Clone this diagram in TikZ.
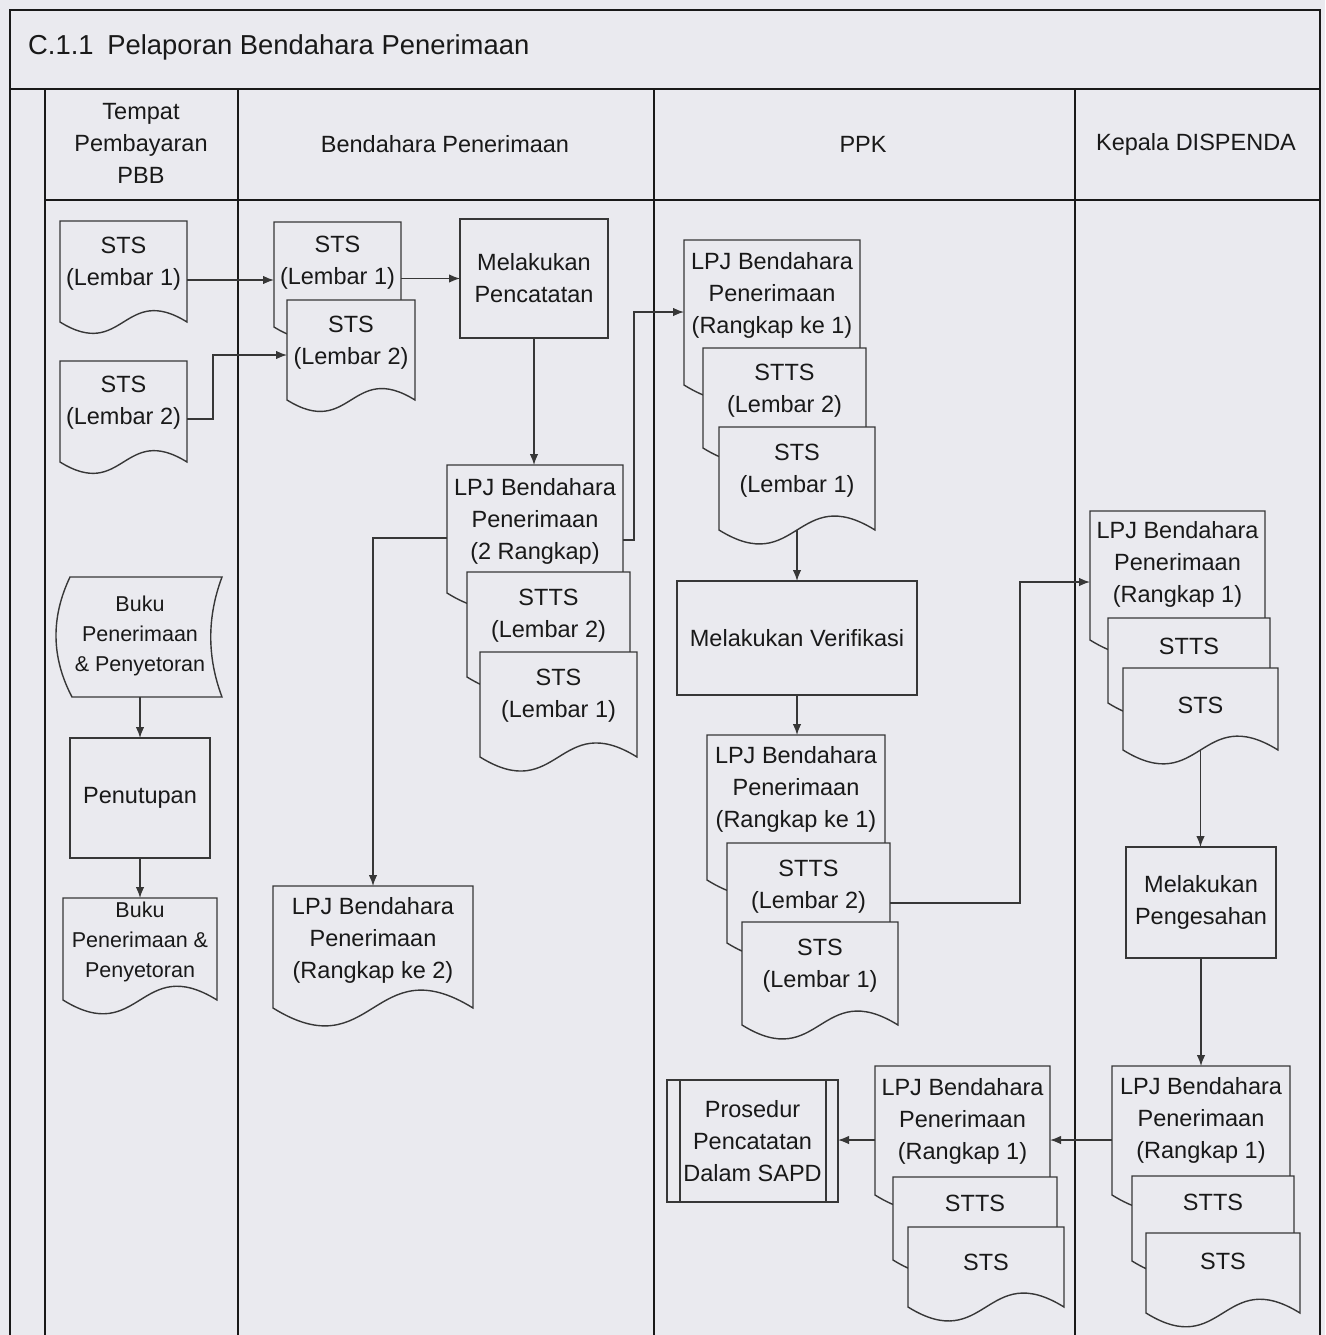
\documentclass[tikz,border=0pt]{standalone}
\usepackage{fontspec}
\setmainfont{Liberation Sans}
\usetikzlibrary{arrows.meta}

\definecolor{paper}{RGB}{234,234,239}
\definecolor{ink}{RGB}{25,25,25}
\definecolor{edge}{RGB}{55,55,55}

\newcommand\bodyfont{\fontsize{23.5}{32}\selectfont}
\newcommand\smallfont{\fontsize{21.5}{30}\selectfont}
\newcommand\titlefont{\fontsize{27.4}{32}\selectfont}

\tikzset{
  laneline/.style={draw=ink, line width=2.2pt},
  docline/.style={draw=edge, line width=1.4pt, fill=paper},
  boxshape/.style={draw=edge, line width=1.4pt, fill=paper, inner sep=0pt,
    outer sep=0pt, anchor=north west, align=center, font=\bodyfont, text=ink},
  frame/.style={draw=none, inner sep=0pt, outer sep=0pt},
  lbl/.style={align=center, font=\bodyfont, text=ink, inner sep=0pt},
  arr/.style={draw=edge, line width=1.3pt, -{Latex[length=11pt,width=8.5pt]}},
  flow/.style={draw=edge, line width=1.4pt},
}

% document symbol: [label style]{name}{left}{top}{width}{height}{label y}{label}
\newcommand\docshape[8][]{%
  \draw[docline] (#3,#4) -- ({#3+#5},#4) -- ({#3+#5},{#4+#6})
    .. controls ({#3+#5/2},{#4+#6-0.31*#5}) and ({#3+#5/2},{#4+#6+0.31*#5})
    .. (#3,{#4+#6}) -- cycle;
  \node[frame, minimum width=#5, minimum height=#6, anchor=north west] (#2) at (#3,#4) {};
  \node[lbl,#1] (#2-t) at ({#3+#5/2},#7) {#8};
}

\begin{document}
\begin{tikzpicture}[x=1pt,y=-1pt]
\useasboundingbox (0,0) rectangle (1325,1335);
\fill[paper] (0,0) rectangle (1325,1335);

% swimlane frame
\draw[laneline] (10,1345) -- (10,10) -- (1320,10) -- (1320,1345);
\draw[laneline] (10,89) -- (1320,89);
\draw[laneline] (45,200) -- (1320,200);
\foreach \lx in {45,238,654,1075} \draw[laneline] (\lx,89) -- (\lx,1345);

\node[lbl, font=\titlefont, anchor=west] (title) at (28,47)
  {C.1.1\hspace{0.5em}Pelaporan Bendahara Penerimaan};
\node[lbl] (hTempat) at (141,143) {Tempat\\Pembayaran\\PBB};
\node[lbl] (hBend) at (445,144) {Bendahara Penerimaan};
\node[lbl] (hPPK) at (863,144) {PPK};
\node[lbl] (hKep) at (1196,144) {Kepala DISPENDA};

% ---- Tempat Pembayaran PBB
\docshape{stsA}{60}{221}{127}{101}{264}{STS\\(Lembar 1)}
\docshape{stsB}{60}{361}{127}{101}{403}{STS\\(Lembar 2)}

\draw[docline] (70,577) -- (222,577) .. controls (207,617) and (207,657) .. (222,697)
  -- (72,697) .. controls (51,657) and (51,617) .. (70,577) -- cycle;
\node[frame, minimum width=150, minimum height=120, anchor=north west] (bukuA) at (72,577) {};
\node[lbl, font=\smallfont] (bukuA-t) at (140,636) {Buku\\Penerimaan\\\& Penyetoran};

\node[boxshape, minimum width=140, minimum height=120] (penut) at (70,738) {Penutupan};
\docshape[font=\smallfont]{bukuB}{63}{898}{154}{102}{942}{Buku\\Penerimaan \&\\Penyetoran}

% ---- Bendahara Penerimaan
\docshape{bsts1}{274}{222}{127}{105}{263}{STS\\(Lembar 1)}
\docshape{bsts2}{287}{300}{128}{100}{343}{STS\\(Lembar 2)}
\node[boxshape, minimum width=148, minimum height=119] (pencat) at (460,219) {Melakukan\\Pencatatan};

\docshape{lpjA}{447}{465}{176}{128}{521}{LPJ Bendahara\\Penerimaan\\(2 Rangkap)}
\docshape{lpjB}{467}{572}{163}{105}{616}{STTS\\(Lembar 2)}
\docshape{lpjC}{480}{652}{157}{105}{696}{STS\\(Lembar 1)}
\docshape{lpjKe2}{273}{886}{200}{122}{940}{LPJ Bendahara\\Penerimaan\\(Rangkap ke 2)}

% ---- PPK
\docshape{pA}{684}{240}{176}{145}{295}{LPJ Bendahara\\Penerimaan\\(Rangkap ke 1)}
\docshape{pB}{703}{348}{163}{100}{391}{STTS\\(Lembar 2)}
\docshape{pC}{719}{427}{156}{103}{471}{STS\\(Lembar 1)}
\node[boxshape, minimum width=240, minimum height=114] (verif) at (677,581) {Melakukan Verifikasi};
\docshape{qA}{707}{735}{178}{145}{789}{LPJ Bendahara\\Penerimaan\\(Rangkap ke 1)}
\docshape{qB}{727}{843}{163}{100}{887}{STTS\\(Lembar 2)}
\docshape{qC}{742}{922}{156}{103}{966}{STS\\(Lembar 1)}

\node[boxshape, minimum width=171, minimum height=122] (pros) at (667,1080)
  {Prosedur\\Pencatatan\\Dalam SAPD};
\draw[flow] ([xshift=13pt]pros.north west) -- ([xshift=13pt]pros.south west);
\draw[flow] ([xshift=-12pt]pros.north east) -- ([xshift=-12pt]pros.south east);

\docshape{rA}{875}{1066}{175}{129}{1121}{LPJ Bendahara\\Penerimaan\\(Rangkap 1)}
\docshape{rB}{893}{1177}{164}{83}{1203}{STTS}
\docshape{rC}{908}{1227}{156}{80}{1262}{STS}

% ---- Kepala DISPENDA
\docshape{kA}{1090}{511}{175}{129}{564}{LPJ Bendahara\\Penerimaan\\(Rangkap 1)}
\docshape{kB}{1108}{618}{162}{85}{646}{STTS}
\docshape{kC}{1123}{668}{155}{82}{705}{STS}
\node[boxshape, minimum width=150, minimum height=111] (peng) at (1126,847) {Melakukan\\Pengesahan};
\docshape{mA}{1112}{1066}{178}{129}{1120}{LPJ Bendahara\\Penerimaan\\(Rangkap 1)}
\docshape{mB}{1132}{1176}{162}{85}{1202}{STTS}
\docshape{mC}{1146}{1233}{154}{80}{1261}{STS}

% ---- connectors
\draw[arr] (stsA.east |- 0,280) -- (bsts1.west |- 0,280);
\draw[arr] (stsB.east |- 0,419) -- (213,419) -- (213,355) -- (bsts2.west |- 0,355);
\draw[arr] (bsts1.east |- pencat.west) -- (pencat.west);
\draw[arr] (pencat.south) -- (pencat.south |- lpjA.north);
\draw[arr] (lpjA.west |- 0,538) -- (lpjKe2.north |- 0,538) -- (lpjKe2.north);
\draw[arr] (lpjA.east |- 0,540) -- (634,540) -- (634,312) -- (pA.west |- 0,312);
\draw[arr] (penut.north |- bukuA.south) -- (penut.north);
\draw[arr] (penut.south) -- (penut.south |- bukuB.north);
\draw[arr] (pC.south) -- (pC.south |- verif.north);
\draw[arr] (verif.south) -- (verif.south |- qA.north);
\draw[arr] (qB.east |- 0,903) -- (1020,903) -- (1020,582) -- (kA.west |- 0,582);
\draw[arr] (kC.south) -- (kC.south |- peng.north);
\draw[arr] (peng.south) -- (peng.south |- mA.north);
\draw[arr] (mA.west |- 0,1140) -- (rA.east |- 0,1140);
\draw[arr] (rA.west |- 0,1140) -- (pros.east |- 0,1140);
\end{tikzpicture}
\end{document}
